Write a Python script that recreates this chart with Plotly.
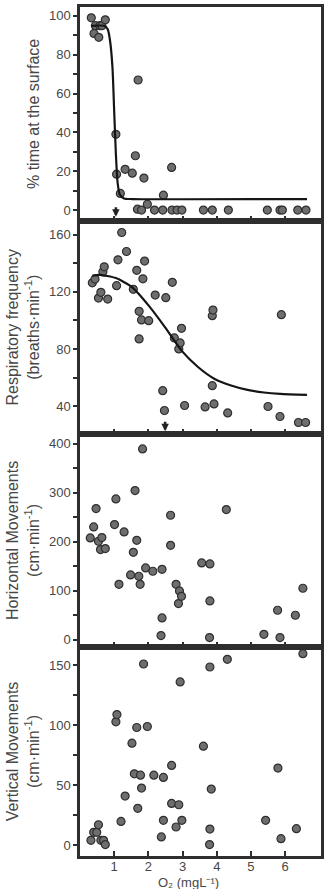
import plotly.graph_objects as go
from plotly.subplots import make_subplots

# ---------------- data ----------------
# Panel 1: % time at the surface
surf_x = [0.33, 0.41, 0.45, 0.55, 0.58, 0.64, 0.74, 1.05, 1.07, 1.18, 1.32, 1.53, 1.62, 1.70,
          1.68, 1.80, 1.87, 1.97, 2.18, 2.42, 2.44, 2.68, 2.69, 2.84, 2.98, 3.61, 3.87, 4.34,
          5.48, 5.85, 5.92, 6.37, 6.61]
surf_y = [99, 91, 95, 89, 95, 95, 98, 39, 18.5, 8.6, 21, 19, 28, 67,
          0.5, 0, 16.5, 3, 0, 0, 7.7, 22, 0, 0, 0, 0, 0, 0,
          0, 0, 0, 0, 0]
surf_fit_x = [0.33, 0.71, 0.81, 0.88, 0.95, 1.00, 1.05, 1.10, 1.16, 1.29, 1.53, 6.64]
surf_fit_y = [94.9, 94.9, 93.1, 87.1, 73.4, 51.0, 28.8, 14.2, 8.2, 6.0, 5.7, 5.7]

# Panel 2: respiratory frequency
resp_x = [0.36, 0.44, 0.54, 0.61, 0.67, 0.71, 0.81, 1.07, 1.11, 1.22, 1.36, 1.56, 1.66, 1.73,
          1.73, 1.80, 1.84, 1.89, 2.01, 2.20, 2.42, 2.47, 2.51, 2.70, 2.76, 2.89, 2.93, 2.97,
          3.06, 3.66, 3.87, 3.89, 3.87, 3.92, 4.32, 5.50, 5.89, 5.85, 6.39, 6.60]
resp_y = [126.4, 129.0, 115.7, 119.7, 134.1, 137.6, 115.0, 124.4, 142.5, 161.6, 148.3, 121.8,
          135.1, 106.4, 87.1, 100.4, 129.2, 141.6, 99.9, 117.8, 50.9, 37.0, 116.0, 126.7, 87.8,
          80.1, 84.3, 94.5, 40.5, 39.5, 103.4, 107.3, 54.4, 41.6, 35.3, 39.8, 104.1, 32.8,
          28.6, 28.6]
resp_fit_x = [0.36, 0.56, 1.05, 1.53, 2.01, 2.49, 2.97, 3.46, 3.94, 4.42, 4.90, 5.38, 5.86, 6.64]
resp_fit_y = [131.3, 132.0, 129.7, 123.2, 110.4, 95.2, 78.9, 67.3, 59.1, 54.5, 51.4, 49.6, 48.6, 47.9]

# Panel 3: horizontal movements
hor_x = [0.30, 0.40, 0.47, 0.54, 0.60, 0.64, 0.74, 1.01, 1.05, 1.14, 1.29, 1.48, 1.56, 1.61,
         1.66, 1.72, 1.76, 1.83, 1.92, 2.13, 2.40, 2.40, 2.37, 2.65, 2.65, 2.81, 2.88, 2.91,
         2.97, 3.56, 3.80, 3.80, 3.79, 4.28, 5.38, 5.78, 5.85, 6.30, 6.52]
hor_y = [207.5, 229.9, 267.4, 200.7, 183.7, 208.2, 185.7, 234.7, 287.1, 112.9, 219.7, 132.0,
         178.2, 304.1, 202.7, 129.3, 112.9, 389.1, 146.3, 139.5, 143.5, 44.2, 8.2, 253.8,
         192.5, 112.9, 73.5, 99.3, 88.4, 156.5, 154.4, 78.9, 4.1, 265.3, 10.9, 59.9, 4.1,
         49.7, 104.8]

# Panel 4: vertical movements
ver_x = [0.32, 0.40, 0.49, 0.54, 0.61, 0.69, 0.74, 1.05, 1.08, 1.20, 1.32, 1.52, 1.59, 1.66,
         1.69, 1.77, 1.80, 1.86, 1.97, 2.16, 2.38, 2.44, 2.44, 2.68, 2.68, 2.81, 2.89, 2.93,
         2.98, 3.61, 3.80, 3.80, 3.79, 3.84, 4.31, 5.43, 5.79, 5.88, 6.33, 6.52]
ver_y = [3.9, 10.6, 10.6, 16.9, 3.9, 3.9, 0.3, 102.8, 108.9, 19.7, 40.8, 85.0, 59.4, 98.1,
         30.6, 58.3, 47.5, 151.1, 98.9, 58.3, 6.7, 20.6, 56.4, 66.4, 34.7, 15.0, 33.6, 136.1,
         20.6, 82.5, 148.6, 13.3, 0.3, 46.7, 155.0, 20.6, 64.2, 5.3, 13.6, 159.7]

x_ticks = [1, 2, 3, 4, 5, 6]
arrow_x = [1.05, 2.49]

titles = ["% time at the surface",
          "Respiratory frequency<br>(breaths·min<sup>-1</sup>)",
          "Horizontal Movements<br>(cm·min<sup>-1</sup>)",
          "Vertical Movements<br>(cm·min<sup>-1</sup>)"]
x_title = "O₂ (mgL⁻¹)"

# ---------------- figure ----------------
FONT = "Liberation Sans, Arial, sans-serif"
TXT = "#474747"
FRAME = "#2e2e2e"

fig = make_subplots(rows=4, cols=1, shared_xaxes=True, vertical_spacing=0)

mk = dict(size=8, color="#6e6e6e", line=dict(width=1.2, color="#2f2f2f"))
series = [(surf_x, surf_y), (resp_x, resp_y), (hor_x, hor_y), (ver_x, ver_y)]
for i, (xs, ys) in enumerate(series, start=1):
    fig.add_trace(go.Scatter(x=xs, y=ys, mode="markers", marker=mk, showlegend=False),
                  row=i, col=1)

ln = dict(color="#151515", width=2.2, shape="spline", smoothing=0.6)
fig.add_trace(go.Scatter(x=surf_fit_x, y=surf_fit_y, mode="lines", line=ln, showlegend=False),
              row=1, col=1)
fig.add_trace(go.Scatter(x=resp_fit_x, y=resp_fit_y, mode="lines", line=ln, showlegend=False),
              row=2, col=1)

# domains (paper coords)
domains = [[0.7482, 1.0], [0.4973, 0.7482], [0.2462, 0.4973], [0.0, 0.2462]]
yranges = [[-5.5, 104.6], [20.7, 169.8], [-15, 420], [-9.2, 165.3]]
ydt = [20, 40, 100, 50]

for i in range(4):
    ya = "yaxis" if i == 0 else f"yaxis{i+1}"
    xa = "xaxis" if i == 0 else f"xaxis{i+1}"
    fig.layout[ya].update(
        domain=domains[i], range=yranges[i], tickmode="linear", tick0=0, dtick=ydt[i],
        ticks="outside", ticklen=4, tickwidth=1.5, tickcolor=FRAME,
        minor=dict(ticks="outside", ticklen=4, tickwidth=1.5, tickcolor=FRAME,
                   dtick=ydt[i] / 2, tick0=0, showgrid=False),
        showline=True, mirror=True, linewidth=2.5, linecolor=FRAME,
        showgrid=False, zeroline=False,
        tickfont=dict(family=FONT, size=13, color=TXT),
        title=dict(text=titles[i], font=dict(family=FONT, size=16, color=TXT), standoff=6),
    )
    fig.layout[xa].update(
        range=[0, 7.05], tickmode="array", tickvals=x_ticks,
        ticks="inside", ticklen=5, tickwidth=1.5, tickcolor=FRAME,
        showline=True, mirror=True, linewidth=2.5, linecolor=FRAME,
        showgrid=False, zeroline=False,
        tickfont=dict(family=FONT, size=13, color=TXT),
    )
fig.layout.xaxis4.ticklabelstandoff = -3

# arrows
fig.add_annotation(x=arrow_x[0], y=-3.4, xref="x", yref="y", text="", showarrow=True,
                   arrowhead=2, arrowsize=0.6, arrowwidth=2.5, arrowcolor="#222",
                   ax=0, ay=-11)
fig.add_annotation(x=arrow_x[1], y=22.5, xref="x2", yref="y2", text="", showarrow=True,
                   arrowhead=2, arrowsize=0.6, arrowwidth=2.5, arrowcolor="#222",
                   ax=0, ay=-11)

# x axis title
fig.add_annotation(x=3.17, y=-0.0315, xref="x4", yref="paper", showarrow=False,
                   text=x_title, yanchor="middle", borderpad=0,
                   font=dict(family=FONT, size=13, color=TXT))

fig.update_layout(
    width=328, height=889, autosize=False,
    margin=dict(l=80, r=4, t=6, b=33),
    paper_bgcolor="white", plot_bgcolor="white",
    font=dict(family=FONT, color=TXT),
)

fig.write_html("out.html")
